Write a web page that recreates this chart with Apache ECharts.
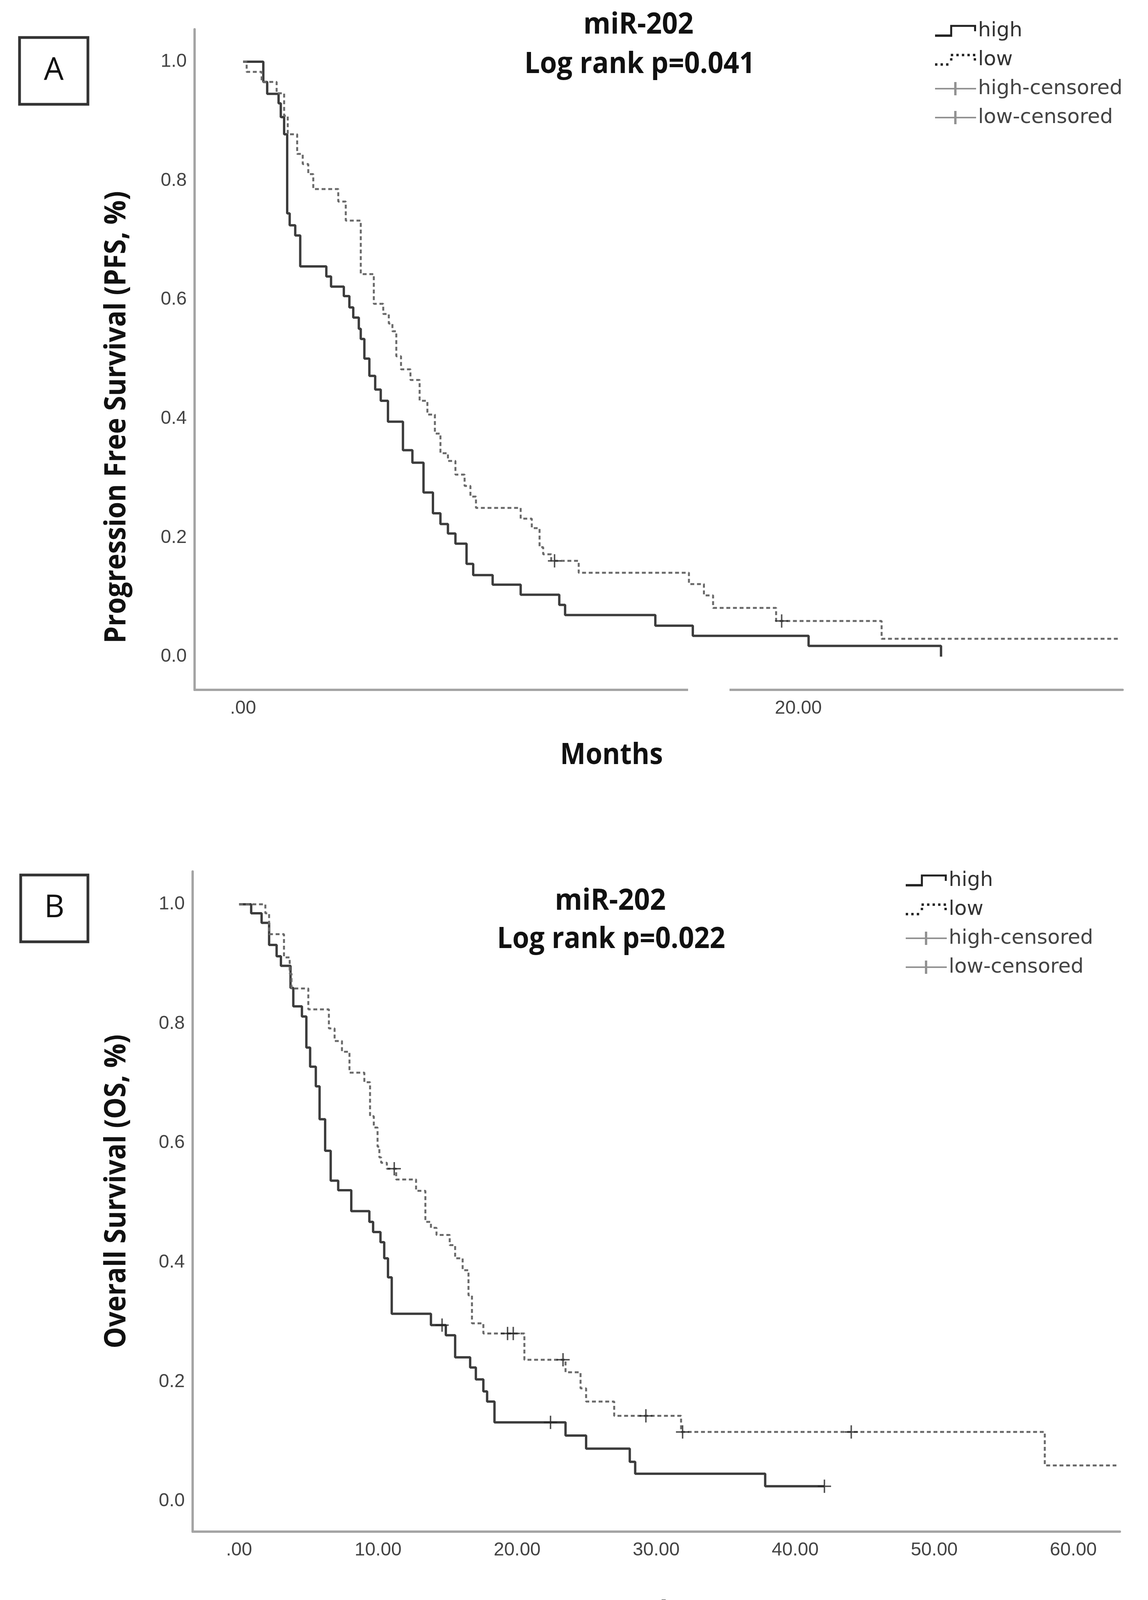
<!DOCTYPE html>
<html>
<head>
<meta charset="utf-8">
<script src="https://cdn.jsdelivr.net/npm/echarts@6/dist/echarts.min.js"></script>
<style>
html,body{margin:0;padding:0;background:#fff;}
#chart{width:2938px;height:4182px;}
</style>
</head>
<body>
<div id="chart"></div>
<script>
// ---------------- DATA ----------------
// Panel A: Progression free survival
const pfsHighMonths = [0, 0.73, 0.87, 1.28, 1.36, 1.48, 1.59, 1.68, 1.88, 2.06, 3.00, 3.17, 3.63, 3.83, 3.97, 4.17, 4.24, 4.37, 4.55, 4.76, 4.96, 5.22, 5.76, 6.10, 6.50, 6.84, 7.11, 7.38, 7.65, 8.05, 8.29, 8.99, 10.0, 11.39, 11.6, 14.85, 16.2, 20.37, 25.14];
const pfsHighSurv   = [1.0, 0.966, 0.946, 0.930, 0.907, 0.878, 0.745, 0.725, 0.708, 0.656, 0.639, 0.622, 0.606, 0.587, 0.570, 0.551, 0.534, 0.501, 0.472, 0.449, 0.430, 0.395, 0.347, 0.326, 0.276, 0.241, 0.223, 0.207, 0.190, 0.156, 0.137, 0.121, 0.104, 0.087, 0.070, 0.052, 0.035, 0.018, 0.0];
const pfsHighCensorMonths = [];
const pfsHighCensorSurv = [];

const pfsLowMonths = [0, 0.13, 0.67, 1.21, 1.48, 1.61, 1.95, 2.15, 2.35, 2.53, 3.43, 3.70, 4.24, 4.71, 5.05, 5.25, 5.38, 5.52, 5.69, 6.03, 6.36, 6.64, 6.91, 7.11, 7.38, 7.65, 7.98, 8.19, 8.39, 10.0, 10.40, 10.68, 10.81, 11.10, 12.09, 16.06, 16.6, 16.93, 19.2, 23.0, 31.58];
const pfsLowSurv   = [1.0, 0.983, 0.966, 0.947, 0.909, 0.878, 0.845, 0.828, 0.811, 0.786, 0.765, 0.733, 0.643, 0.593, 0.576, 0.560, 0.547, 0.505, 0.483, 0.465, 0.430, 0.407, 0.375, 0.342, 0.329, 0.306, 0.287, 0.269, 0.250, 0.232, 0.216, 0.184, 0.172, 0.161, 0.141, 0.122, 0.103, 0.082, 0.060, 0.030, 0.030];
const pfsLowCensorMonths = [11.22, 19.4];
const pfsLowCensorSurv   = [0.161, 0.060];

// Panel B: Overall survival
const osHighMonths = [0, 0.87, 1.62, 2.16, 2.70, 3.01, 3.70, 3.90, 4.52, 4.84, 5.11, 5.52, 5.79, 6.19, 6.59, 7.13, 8.07, 9.37, 9.64, 10.17, 10.44, 10.71, 10.98, 13.8, 14.87, 15.54, 16.62, 17.03, 17.57, 17.84, 18.37, 23.48, 24.96, 28.1, 28.49, 37.84, 42.1];
const osHighSurv   = [1.0, 0.985, 0.969, 0.932, 0.913, 0.897, 0.860, 0.829, 0.812, 0.760, 0.728, 0.695, 0.640, 0.587, 0.537, 0.521, 0.486, 0.468, 0.451, 0.434, 0.407, 0.375, 0.314, 0.295, 0.278, 0.241, 0.224, 0.204, 0.184, 0.167, 0.132, 0.110, 0.088, 0.066, 0.046, 0.025, 0.025];
const osHighCensorMonths = [14.6, 22.4, 42.1];
const osHighCensorSurv   = [0.295, 0.132, 0.025];

const osLowMonths = [0, 1.89, 2.16, 3.23, 3.64, 3.77, 4.98, 6.46, 6.87, 7.40, 7.94, 9.01, 9.42, 9.69, 9.96, 10.09, 10.22, 10.63, 11.3, 12.73, 13.4, 13.8, 14.2, 15.15, 15.54, 16.08, 16.5, 16.75, 17.57, 20.52, 23.48, 24.56, 24.96, 26.98, 31.79, 57.95, 63.1];
const osLowSurv   = [1.0, 0.985, 0.950, 0.911, 0.884, 0.859, 0.824, 0.792, 0.771, 0.753, 0.718, 0.702, 0.645, 0.626, 0.594, 0.576, 0.567, 0.557, 0.539, 0.520, 0.468, 0.458, 0.446, 0.429, 0.407, 0.387, 0.345, 0.298, 0.281, 0.237, 0.216, 0.189, 0.167, 0.143, 0.116, 0.060, 0.060];
const osLowCensorMonths = [11.16, 19.31, 19.72, 23.3, 29.26, 31.9, 44.03];
const osLowCensorSurv   = [0.557, 0.281, 0.281, 0.237, 0.143, 0.116, 0.116];

// Tick labels
const yTickValues = [0, 0.2, 0.4, 0.6, 0.8, 1.0];
const pfsXTickValues = [0, 20];
const osXTickValues = [0, 10, 20, 30, 40, 50, 60];

// Texts
const seriesNames = ['high', 'low', 'high-censored', 'low-censored'];
const titleA = ['miR-202', 'Log rank p=0.041'];
const titleB = ['miR-202', 'Log rank p=0.022'];
const yNameA = 'Progression Free Survival (PFS, %)';
const yNameB = 'Overall Survival (OS, %)';
const xName = 'Months';

// ---------------- CHART ----------------
const pairs = (T, S) => T.map((t, i) => [t, S[i]]);

const HIGH_COLOR = '#3c3c3c';
const LOW_COLOR = '#6a6a6a';
const CENSOR_COLOR = '#262626';
const AXIS_COLOR = '#a4a4a4';

const plusPath = 'path://M-1.1,-10L1.1,-10L1.1,-1.1L10,-1.1L10,1.1L1.1,1.1L1.1,10L-1.1,10L-1.1,1.1L-10,1.1L-10,-1.1L-1.1,-1.1Z';
const iconHigh = 'path://M0,26L38,26L38,2L103,2L103,18L98,18L98,7L43,7L43,32L0,32Z';
const iconLow = 'path://M0,26h6v6h-6z M14,26h6v6h-6z M28,26h6v6h-6z M38,13h6v6h-6z M40,2h6v6h-6z M54,2h6v6h-6z M68,2h6v6h-6z M82,2h6v6h-6z M96,2h6v6h-6z M98,13h6v6h-6z';
const iconCensor = 'path://M0,15L49,15L49,0L55,0L55,15L105,15L105,19L55,19L55,34L49,34L49,19L0,19Z';

const tickLabel = {fontFamily: 'Liberation Sans', fontSize: 48, color: '#444'};
const BOLD_FAMILY = '"Open Sans"';
const BOLD_SIZE = 75;

// bold heading text, horizontally condensed to the reference's (Calibri-like) proportions
const measureCtx = document.createElement('canvas').getContext('2d');
function boldText(text, cx, cy, targetWidth, vertical) {
  measureCtx.font = 'bold ' + BOLD_SIZE + 'px ' + BOLD_FAMILY;
  const w = measureCtx.measureText(text).width || 1;
  return {
    type: 'text', x: cx, y: cy, z: 50,
    rotation: vertical ? Math.PI / 2 : 0,
    scaleX: targetWidth / w, scaleY: 1,
    style: {
      text, fontFamily: 'Open Sans', fontWeight: 'bold', fontSize: BOLD_SIZE,
      fill: '#111', align: 'center', verticalAlign: 'middle'
    }
  };
}

function xAxisCfg(gridIndex, min, max, ticks) {
  return {
    type: 'value', gridIndex, min, max,
    axisLine: {show: true, onZero: false, lineStyle: {color: AXIS_COLOR, width: 6}},
    axisTick: {show: false},
    splitLine: {show: false},
    axisLabel: Object.assign({
      customValues: ticks, margin: 24,
      formatter: v => (v === 0 ? '.00' : Number(v).toFixed(2))
    }, tickLabel)
  };
}
function yAxisCfg(gridIndex, min, max) {
  return {
    type: 'value', gridIndex, min, max,
    axisLine: {show: true, onZero: false, lineStyle: {color: AXIS_COLOR, width: 6}},
    axisTick: {show: false},
    splitLine: {show: false},
    axisLabel: Object.assign({
      customValues: yTickValues, margin: 20,
      formatter: v => Number(v).toFixed(1)
    }, tickLabel)
  };
}
function lineSeries(name, xi, T, S, color, width, type) {
  return {
    name, type: 'line', step: 'end', xAxisIndex: xi, yAxisIndex: xi,
    data: pairs(T, S), symbol: 'none', showSymbol: false,
    color, lineStyle: {color, width, type, cap: 'butt'}, silent: true, z: 3
  };
}
function censorSeries(name, xi, T, S) {
  return {
    name, type: 'scatter', xAxisIndex: xi, yAxisIndex: xi,
    data: pairs(T, S), symbol: plusPath, symbolSize: 34,
    color: CENSOR_COLOR, itemStyle: {color: CENSOR_COLOR}, silent: true, z: 4
  };
}
function legendCfg(left, top) {
  return {
    orient: 'vertical', left, top, padding: 0,
    itemWidth: 105, itemHeight: 34, itemGap: 22, selectedMode: false,
    textStyle: {fontFamily: 'DejaVu Sans', fontSize: 52, color: '#333', lineHeight: 40},
    data: [
      {name: seriesNames[0], icon: iconHigh, itemStyle: {color: '#222', borderWidth: 0}},
      {name: seriesNames[1], icon: iconLow, itemStyle: {color: '#222', borderWidth: 0}},
      {name: seriesNames[2], icon: iconCensor, itemStyle: {color: '#777', borderWidth: 0}, textStyle: {color: '#444'}},
      {name: seriesNames[3], icon: iconCensor, itemStyle: {color: '#777', borderWidth: 0}, textStyle: {color: '#444'}}
    ]
  };
}
function panelLabel(letter, x, y, w, h) {
  return {
    type: 'group', children: [
      {type: 'rect', shape: {x, y, width: w, height: h}, style: {fill: '#fff', stroke: '#333', lineWidth: 7}},
      {type: 'text', x: x + w / 2, y: y + h / 2,
       style: {text: letter, fontFamily: 'Open Sans', fontSize: 80, fill: '#111', align: 'center', verticalAlign: 'middle'}}
    ]
  };
}

const chart = echarts.init(document.getElementById('chart'), null, {renderer: 'canvas', width: 2938, height: 4182});
chart.setOption({
  animation: false,
  backgroundColor: '#fff',
  legend: [legendCfg(2393, 53), legendCfg(2318, 2228)],
  grid: [
    {left: 498, top: 75, width: 2375, height: 1691, containLabel: false, outerBoundsMode: 'none'},
    {left: 493, top: 2231, width: 2373, height: 1690, containLabel: false, outerBoundsMode: 'none'}
  ],
  xAxis: [
    xAxisCfg(0, -1.745, 31.68, pfsXTickValues),
    xAxisCfg(1, -3.34, 63.35, osXTickValues)
  ],
  yAxis: [
    yAxisCfg(0, -0.0558, 1.0545),
    yAxisCfg(1, -0.051, 1.055)
  ],
  series: [
    lineSeries(seriesNames[0], 0, pfsHighMonths, pfsHighSurv, HIGH_COLOR, 6, 'solid'),
    lineSeries(seriesNames[1], 0, pfsLowMonths, pfsLowSurv, LOW_COLOR, 5, [10, 7]),
    censorSeries(seriesNames[2], 0, pfsHighCensorMonths, pfsHighCensorSurv),
    censorSeries(seriesNames[3], 0, pfsLowCensorMonths, pfsLowCensorSurv),
    lineSeries(seriesNames[0], 1, osHighMonths, osHighSurv, HIGH_COLOR, 6, 'solid'),
    lineSeries(seriesNames[1], 1, osLowMonths, osLowSurv, LOW_COLOR, 5, [10, 7]),
    censorSeries(seriesNames[2], 1, osHighCensorMonths, osHighCensorSurv),
    censorSeries(seriesNames[3], 1, osLowCensorMonths, osLowCensorSurv)
  ],
  graphic: [
    panelLabel('A', 50, 96, 175, 171),
    panelLabel('B', 53, 2240, 172, 171),
    // titles
    boldText(titleA[0], 1634, 65, 282, false),
    boldText(titleA[1], 1637, 166, 590, false),
    boldText(titleB[0], 1562, 2308, 284, false),
    boldText(titleB[1], 1564, 2406, 584, false),
    // axis titles
    boldText(yNameA, 300, 1068, 1158, true),
    boldText(yNameB, 300, 3050, 804, true),
    boldText(xName, 1565, 1935, 263, false),
    boldText(xName, 1635, 4131, 268, false),
    // white break in panel A's x-axis line, as in the reference
    {type: 'rect', z: 100, shape: {x: 1761, y: 1752, width: 106, height: 28}, style: {fill: '#fff'}}
  ]
});
</script>
</body>
</html>
